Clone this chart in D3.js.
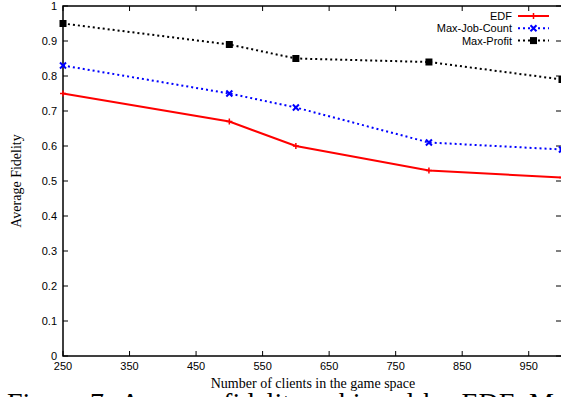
<!DOCTYPE html>
<html>
<head>
<meta charset="utf-8">
<script src="https://cdn.jsdelivr.net/npm/d3@7"></script>
<style>
  body { margin: 0; background: #fff; overflow: hidden; }
  svg { display: block; }
  .tick-label { font-family: "Liberation Sans", Arial, sans-serif; font-size: 11px; fill: #000; }
  .axis-title { font-family: "Liberation Serif", "Times New Roman", serif; font-size: 14px; fill: #000; }
  .legend-label { font-family: "Liberation Sans", Arial, sans-serif; font-size: 11px; fill: #000; }
  .caption { font-family: "Liberation Serif", "Times New Roman", serif; font-size: 28px; fill: #000; }
</style>
</head>
<body>
<div id="chart"></div>
<script>
// data
const clients = [250, 500, 600, 800, 1000];
const edf = [0.75, 0.67, 0.60, 0.53, 0.51];
const maxJobCount = [0.83, 0.75, 0.71, 0.61, 0.59];
const maxProfit = [0.95, 0.89, 0.85, 0.84, 0.79];
const xTicks = [250, 350, 450, 550, 650, 750, 850, 950];
const yTicks = [0, 0.1, 0.2, 0.3, 0.4, 0.5, 0.6, 0.7, 0.8, 0.9, 1];

const seriesNames = ['EDF', 'Max-Job-Count', 'Max-Profit'];
const seriesValues = [edf, maxJobCount, maxProfit];

const width = 561, height = 397;
const plotLeft = 63, plotRight = 562, plotTop = 6, plotBottom = 356;

const svg = d3.select('#chart').append('svg')
  .attr('width', width)
  .attr('height', height);

const x = d3.scaleLinear().domain([250, 1000]).range([plotLeft, plotRight]);
const y = d3.scaleLinear().domain([0, 1]).range([plotBottom, plotTop]);

const styles = [
  { color: '#ff0000', dash: null, marker: 'plus' },
  { color: '#0000ff', dash: '2,3', marker: 'cross' },
  { color: '#000000', dash: '2,3', marker: 'square' }
];

// frame
svg.append('rect')
  .attr('x', plotLeft).attr('y', plotTop)
  .attr('width', plotRight - plotLeft).attr('height', plotBottom - plotTop)
  .attr('fill', 'none').attr('stroke', '#000').attr('stroke-width', 1.5);

const tickLen = 5;

// bottom + top ticks
const xg = svg.append('g');
xTicks.forEach(function(t) {
  xg.append('line').attr('x1', x(t)).attr('x2', x(t))
    .attr('y1', plotBottom).attr('y2', plotBottom - tickLen).attr('stroke', '#000');
  xg.append('line').attr('x1', x(t)).attr('x2', x(t))
    .attr('y1', plotTop).attr('y2', plotTop + tickLen).attr('stroke', '#000');
  xg.append('text').attr('class', 'tick-label')
    .attr('x', x(t)).attr('y', plotBottom + 14)
    .attr('text-anchor', 'middle').text(t);
});

// left + right ticks
const yg = svg.append('g');
yTicks.forEach(function(t) {
  yg.append('line').attr('x1', plotLeft).attr('x2', plotLeft + tickLen)
    .attr('y1', y(t)).attr('y2', y(t)).attr('stroke', '#000');
  yg.append('line').attr('x1', plotRight - 1).attr('x2', plotRight - 1 - tickLen)
    .attr('y1', y(t)).attr('y2', y(t)).attr('stroke', '#000');
  yg.append('text').attr('class', 'tick-label')
    .attr('x', plotLeft - 6).attr('y', y(t) + 4)
    .attr('text-anchor', 'end').text(d3.format('~g')(t));
});

// axis titles
svg.append('text').attr('class', 'axis-title')
  .attr('x', 313).attr('y', 388)
  .attr('text-anchor', 'middle')
  .text('Number of clients in the game space');

svg.append('text').attr('class', 'axis-title')
  .attr('transform', 'translate(21,' + ((plotTop + plotBottom) / 2) + ') rotate(-90)')
  .attr('text-anchor', 'middle')
  .text('Average Fidelity');

function drawMarker(g, type, cx, cy, color) {
  if (type === 'plus') {
    g.append('path').attr('d', `M${cx - 3},${cy}H${cx + 3}M${cx},${cy - 3}V${cy + 3}`)
      .attr('stroke', color).attr('stroke-width', 1.5);
  } else if (type === 'cross') {
    g.append('path').attr('d', `M${cx - 3},${cy - 3}L${cx + 3},${cy + 3}M${cx - 3},${cy + 3}L${cx + 3},${cy - 3}`)
      .attr('stroke', color).attr('stroke-width', 2);
  } else {
    g.append('rect').attr('x', cx - 3.5).attr('y', cy - 3.5)
      .attr('width', 7).attr('height', 7).attr('fill', color);
  }
}

const line = d3.line()
  .x(function(d) { return x(d[0]); })
  .y(function(d) { return y(d[1]); });

const plot = svg.append('g');

// draw back to front like gnuplot: EDF first
seriesValues.forEach(function(vals, i) {
  const st = styles[i];
  const pts = clients.map(function(c, j) { return [c, vals[j]]; });
  plot.append('path')
    .datum(pts)
    .attr('d', line)
    .attr('fill', 'none')
    .attr('stroke', st.color)
    .attr('stroke-width', 2)
    .attr('stroke-dasharray', st.dash);
  pts.forEach(function(p) {
    drawMarker(plot, st.marker, x(p[0]), y(p[1]), st.color);
  });
});

// legend
const legend = svg.append('g');
seriesNames.forEach(function(name, i) {
  const st = styles[i];
  const ly = 16 + i * 12.3;
  legend.append('text').attr('class', 'legend-label')
    .attr('x', 512).attr('y', ly + 4)
    .attr('text-anchor', 'end').text(name);
  legend.append('line')
    .attr('x1', 518).attr('x2', 549)
    .attr('y1', ly).attr('y2', ly)
    .attr('stroke', st.color).attr('stroke-width', 2)
    .attr('stroke-dasharray', st.dash);
  drawMarker(legend, st.marker, 533.5, ly, st.color);
});

// caption of the paper figure, cut off at the bottom
svg.append('text').attr('class', 'caption')
  .attr('x', 7).attr('y', 412)
  .attr('word-spacing', 3)
  .text('Figure 7: Average fidelity achieved by EDF, Max-');
</script>
</body>
</html>
